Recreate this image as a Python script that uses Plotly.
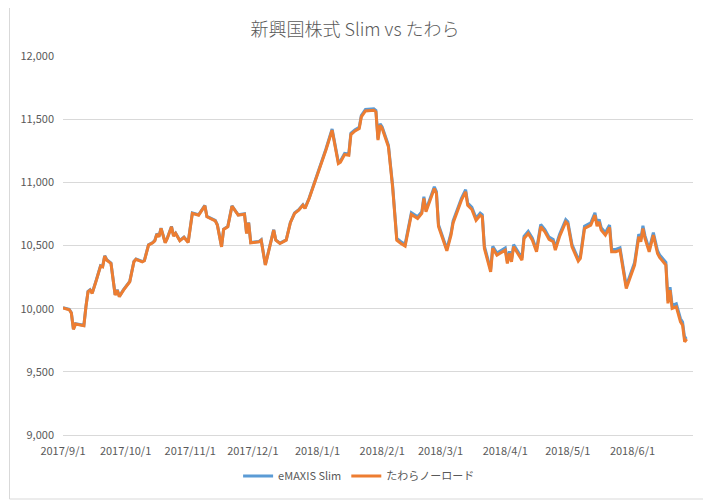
import plotly.graph_objects as go

# values
dates = [
    "2017-09-01", "2017-09-04", "2017-09-05", "2017-09-06", "2017-09-07", "2017-09-09",
    "2017-09-11", "2017-09-12", "2017-09-13", "2017-09-14", "2017-09-15", "2017-09-17",
    "2017-09-19", "2017-09-20", "2017-09-21", "2017-09-22", "2017-09-23", "2017-09-24",
    "2017-09-26", "2017-09-27", "2017-09-28", "2017-09-30", "2017-10-03", "2017-10-05",
    "2017-10-06", "2017-10-09", "2017-10-10", "2017-10-12", "2017-10-14", "2017-10-15",
    "2017-10-16", "2017-10-17", "2017-10-18", "2017-10-20", "2017-10-21", "2017-10-23",
    "2017-10-24", "2017-10-25", "2017-10-27", "2017-10-29", "2017-10-31", "2017-11-02",
    "2017-11-05", "2017-11-08", "2017-11-09", "2017-11-13", "2017-11-14", "2017-11-16",
    "2017-11-17", "2017-11-19", "2017-11-21", "2017-11-24", "2017-11-27", "2017-11-28",
    "2017-11-29", "2017-11-30", "2017-12-04", "2017-12-05", "2017-12-07", "2017-12-09",
    "2017-12-11", "2017-12-12", "2017-12-14", "2017-12-17", "2017-12-19", "2017-12-21",
    "2017-12-23", "2017-12-25", "2017-12-26", "2017-12-28", "2018-01-03", "2018-01-05",
    "2018-01-08", "2018-01-11", "2018-01-12", "2018-01-14", "2018-01-16", "2018-01-17",
    "2018-01-19", "2018-01-21", "2018-01-22", "2018-01-24", "2018-01-28", "2018-01-29",
    "2018-01-30", "2018-01-31", "2018-02-01", "2018-02-04", "2018-02-06", "2018-02-08",
    "2018-02-10", "2018-02-12", "2018-02-15", "2018-02-18", "2018-02-20", "2018-02-21",
    "2018-02-22", "2018-02-26", "2018-02-27", "2018-02-28", "2018-03-04", "2018-03-06",
    "2018-03-07", "2018-03-09", "2018-03-11", "2018-03-13", "2018-03-14", "2018-03-16",
    "2018-03-18", "2018-03-20", "2018-03-21", "2018-03-22", "2018-03-25", "2018-03-26",
    "2018-03-28", "2018-04-01", "2018-04-02", "2018-04-03", "2018-04-04", "2018-04-05",
    "2018-04-09", "2018-04-10", "2018-04-12", "2018-04-14", "2018-04-16", "2018-04-18",
    "2018-04-20", "2018-04-22", "2018-04-24", "2018-04-25", "2018-04-27", "2018-04-30",
    "2018-05-01", "2018-05-03", "2018-05-06", "2018-05-07", "2018-05-09", "2018-05-12",
    "2018-05-14", "2018-05-15", "2018-05-16", "2018-05-17", "2018-05-19", "2018-05-21",
    "2018-05-22", "2018-05-24", "2018-05-26", "2018-05-29", "2018-05-31", "2018-06-02",
    "2018-06-04", "2018-06-05", "2018-06-06", "2018-06-07", "2018-06-09", "2018-06-11",
    "2018-06-13", "2018-06-14", "2018-06-17", "2018-06-18", "2018-06-19", "2018-06-20",
    "2018-06-22", "2018-06-24", "2018-06-25", "2018-06-26", "2018-06-27",
]

tawara = [
    10005, 9992, 9965, 9836, 9878, 9870, 9865, 10015, 10134, 10147, 10121, 10226,
    10337, 10331, 10416, 10384, 10371, 10358, 10107, 10147, 10094, 10147, 10213, 10371,
    10390, 10371, 10379, 10503, 10521, 10537, 10590, 10569, 10635, 10521, 10556, 10648,
    10574, 10595, 10537, 10564, 10524, 10754, 10740, 10814, 10727, 10695, 10661, 10489,
    10627, 10648, 10811, 10740, 10748, 10595, 10679, 10521, 10529, 10542, 10345, 10477,
    10622, 10542, 10516, 10542, 10680, 10754, 10780, 10819, 10793, 10872, 11149, 11254,
    11412, 11149, 11160, 11220, 11215, 11378, 11407, 11426, 11518, 11565, 11571, 11557,
    11334, 11452, 11426, 11281, 10964, 10542, 10516, 10495, 10746, 10714, 10754, 10872,
    10767, 10951, 10912, 10650, 10458, 10582, 10679, 10766, 10859, 10925, 10819, 10785,
    10700, 10740, 10727, 10477, 10292, 10477, 10424, 10463, 10358, 10437, 10371, 10490,
    10384, 10556, 10595, 10542, 10450, 10648, 10608, 10548, 10530, 10463, 10569, 10687,
    10670, 10489, 10376, 10397, 10635, 10661, 10740, 10653, 10687, 10622, 10582, 10643,
    10450, 10450, 10463, 10160, 10252, 10345, 10569, 10530, 10635, 10555, 10450, 10582,
    10437, 10405, 10345, 10042, 10147, 10002, 10015, 9896, 9870, 9738, 9760,
]

slim = [
    10007, 9995, 9968, 9839, 9881, 9873, 9868, 10018, 10137, 10150, 10124, 10229,
    10340, 10334, 10419, 10387, 10374, 10361, 10110, 10150, 10097, 10150, 10216, 10374,
    10393, 10374, 10382, 10506, 10524, 10540, 10593, 10572, 10638, 10524, 10559, 10651,
    10577, 10598, 10540, 10567, 10527, 10757, 10743, 10817, 10730, 10698, 10664, 10492,
    10630, 10651, 10814, 10743, 10751, 10598, 10682, 10524, 10532, 10545, 10348, 10480,
    10625, 10545, 10519, 10545, 10683, 10757, 10783, 10822, 10796, 10876, 11157, 11262,
    11422, 11159, 11170, 11230, 11225, 11388, 11417, 11436, 11528, 11577, 11583, 11569,
    11346, 11464, 11438, 11293, 10976, 10556, 10530, 10509, 10760, 10728, 10768, 10886,
    10781, 10965, 10926, 10664, 10473, 10597, 10694, 10781, 10874, 10942, 10836, 10802,
    10717, 10757, 10744, 10494, 10309, 10494, 10441, 10480, 10375, 10454, 10388, 10507,
    10401, 10573, 10612, 10559, 10467, 10666, 10626, 10566, 10548, 10481, 10587, 10705,
    10688, 10507, 10394, 10415, 10653, 10680, 10759, 10672, 10706, 10641, 10601, 10662,
    10469, 10469, 10482, 10180, 10272, 10365, 10590, 10551, 10656, 10576, 10471, 10603,
    10458, 10426, 10367, 10064, 10170, 10025, 10038, 9920, 9895, 9765, 9775,
]

title_text = "新興国株式 Slim vs たわら"
slim_name = "eMAXIS Slim"
tawara_name = "たわらノーロード"

grey_text = "#595959"
grid = "#D9D9D9"

fig = go.Figure()

fig.add_trace(go.Scatter(
    x=dates, y=slim, name=slim_name, mode="lines",
    line={"color": "#5B9BD5", "width": 3},
))
fig.add_trace(go.Scatter(
    x=dates, y=tawara, name=tawara_name, mode="lines",
    line={"color": "#ED7D31", "width": 3},
))

# the page body adds an 8px offset, so margins are pulled in by that much
fig.update_layout(
    width=711, height=504,
    paper_bgcolor="white", plot_bgcolor="white",
    margin={"l": 49, "r": 26, "t": 48, "b": 77},
    font={"family": "Noto Sans CJK JP, Noto Sans, sans-serif", "size": 11, "color": grey_text},
    title={"text": title_text, "x": 347 / 711, "xanchor": "center",
           "y": 1 - 22 / 504, "yanchor": "middle", "yref": "container",
           "font": {"size": 18, "color": grey_text, "weight": 300}},
    showlegend=True,
    legend={"orientation": "h", "x": 0.47, "xanchor": "center",
            "y": -0.108, "yanchor": "middle", "font": {"size": 11, "color": grey_text},
            "itemwidth": 30, "traceorder": "normal"},
    xaxis={
        "type": "date",
        "range": ["2017-09-01", "2018-06-30"],
        "tick0": "2017-09-01", "dtick": "M1",
        "tickformat": "%Y/%-m/%-d",
        "showgrid": False, "zeroline": False,
        "showline": True, "linecolor": grid, "linewidth": 1,
        "ticks": "", "ticklabelstandoff": 6,
    },
    yaxis={
        "range": [9000, 12000], "dtick": 500, "tickformat": ",",
        "showgrid": True, "gridcolor": grid, "gridwidth": 1,
        "zeroline": False, "showline": False, "ticks": "",
        "ticklabelstandoff": 8,
    },
    shapes=[{
        "type": "rect", "xref": "paper", "yref": "paper",
        "x0": -0.0849, "x1": 1.0204, "y0": -0.1689, "y1": 1.1398,
        "line": {"color": grid, "width": 1}, "fillcolor": "rgba(0,0,0,0)",
        "layer": "below",
    }],
)

fig.write_html("out.html")
